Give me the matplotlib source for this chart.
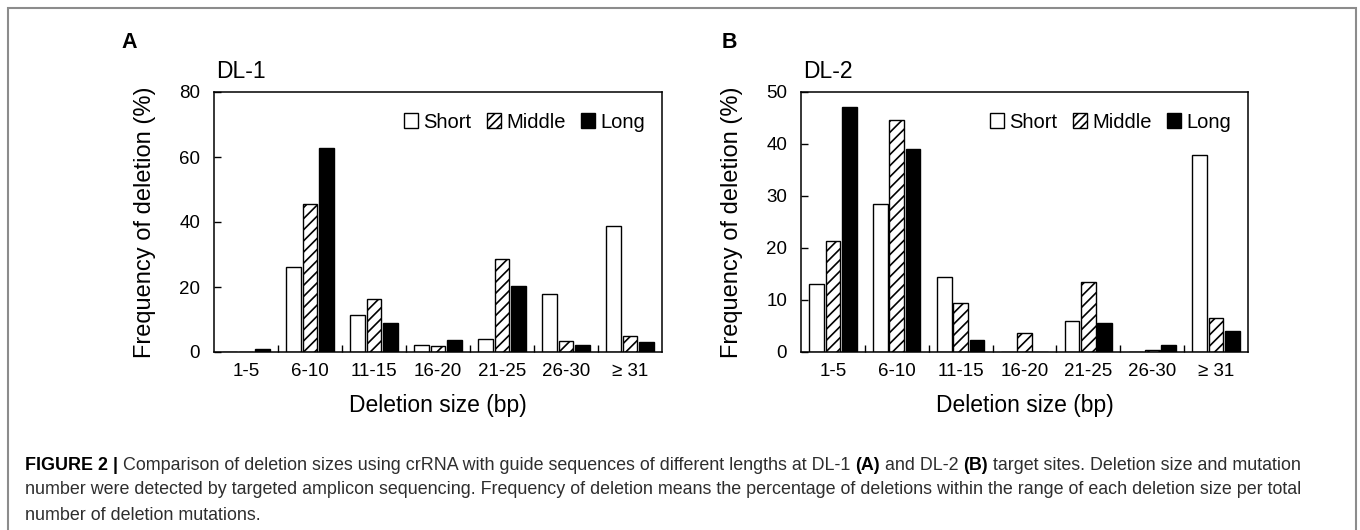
import matplotlib
matplotlib.use('Agg')
import matplotlib.pyplot as plt
import numpy as np
from matplotlib.patches import Rectangle, Patch
from matplotlib.ticker import NullFormatter

plt.rcParams['font.family'] = ['Liberation Sans', 'DejaVu Sans']
plt.rcParams['hatch.linewidth'] = 1.2

# ---------------- data ----------------
categories = ['1-5', '6-10', '11-15', '16-20', '21-25', '26-30', '≥ 31']
series_names = ['Short', 'Middle', 'Long']

dl1_short = [0.0, 26.2, 11.4, 2.2, 3.9, 17.9, 38.8]
dl1_middle = [0.0, 45.6, 16.4, 1.9, 28.7, 3.3, 5.0]
dl1_long = [0.9, 62.8, 8.8, 3.6, 20.4, 2.3, 3.0]

dl2_short = [13.0, 28.4, 14.5, 0.0, 5.9, 0.0, 37.9]
dl2_middle = [21.3, 44.6, 9.5, 3.7, 13.5, 0.3, 6.5]
dl2_long = [47.1, 39.1, 2.4, 0.0, 5.5, 1.4, 4.1]

dl1_yticks = [0, 20, 40, 60, 80]
dl2_yticks = [0, 10, 20, 30, 40, 50]

ylabel = 'Frequency of deletion (%)'
xlabel = 'Deletion size (bp)'

caption_line1 = [('FIGURE 2 |', True),
                 (' Comparison of deletion sizes using crRNA with guide sequences of different lengths at DL-1 ', False),
                 ('(A)', True), (' and DL-2 ', False), ('(B)', True),
                 (' target sites. Deletion size and mutation', False)]
caption_line2 = [('number were detected by targeted amplicon sequencing. Frequency of deletion means the percentage '
                  'of deletions within the range of each deletion size per total', False)]
caption_line3 = [('number of deletion mutations.', False)]

# ---------------- figure ----------------
W, H = 1360, 530
fig = plt.figure(figsize=(W / 100, H / 100), dpi=100)
fig.patch.set_facecolor('white')


def rect(l, t, r, b):
    return [l / W, 1 - b / H, (r - l) / W, (b - t) / H]


def fx(px):
    return px / W


def fy(py):
    return 1 - py / H


# figure border
fig.add_artist(Rectangle((fx(7.5), fy(545)), (1356 - 7.5) / W, (545 - 8) / H,
                         transform=fig.transFigure, fill=False,
                         edgecolor='#8c8c8c', lw=1.5))

axA = fig.add_axes(rect(214, 92, 662, 352))
axB = fig.add_axes(rect(801, 92, 1248, 352))

hatch = '///'


def draw(ax, short, middle, long_, yticks, title):
    x = np.arange(len(categories))
    w = 0.23
    off = 0.255
    ax.bar(x - off, short, w, color='white', edgecolor='black', lw=1.0, zorder=2)
    ax.bar(x, middle, w, color='white', edgecolor='black', hatch=hatch, lw=1.0, zorder=2)
    ax.bar(x + off, long_, w, color='black', edgecolor='black', lw=1.0, zorder=2)
    ax.set_xlim(-0.5, len(categories) - 0.5)
    ax.set_ylim(yticks[0], yticks[-1])
    ax.set_yticks(yticks)
    ax.set_xticks(np.arange(0.5, len(categories) - 1, 1.0))
    ax.xaxis.set_major_formatter(NullFormatter())
    ax.set_xticks(x, minor=True)
    ax.set_xticklabels(categories, minor=True)
    ax.tick_params(axis='x', which='major', direction='in', length=5, width=1)
    ax.tick_params(axis='x', which='minor', length=0, pad=8, labelsize=13.5)
    ax.tick_params(axis='y', direction='in', length=5, width=1, pad=10, labelsize=13.5)
    for s in ax.spines.values():
        s.set_linewidth(1.1)
    ax.set_ylabel(ylabel, fontsize=17)
    ax.yaxis.set_label_coords(-0.154, 0.5)
    ax.yaxis.label.set_va('center')
    ax.set_xlabel(xlabel, fontsize=16.5)
    ax.xaxis.set_label_coords(0.5, -0.205)
    ax.xaxis.label.set_va('center')
    ax.text(0.005, 1 + (92 - 71) / 260, title, transform=ax.transAxes,
            fontsize=16.5, ha='left', va='center')
    handles = [Patch(facecolor='white', edgecolor='black', lw=1.0),
               Patch(facecolor='white', edgecolor='black', hatch='////', lw=1.0),
               Patch(facecolor='black', edgecolor='black', lw=1.0)]
    ax.legend(handles, series_names, loc='center right',
              bbox_to_anchor=(0.962, (352 - 122) / 260), ncol=3, frameon=False,
              fontsize=14.5, handlelength=0.72, handleheight=0.72,
              handletextpad=0.25, columnspacing=0.75, borderpad=0,
              borderaxespad=0)


draw(axA, dl1_short, dl1_middle, dl1_long, dl1_yticks, 'DL-1')
draw(axB, dl2_short, dl2_middle, dl2_long, dl2_yticks, 'DL-2')

fig.text(fx(129.5), fy(43), 'A', fontsize=15.5, fontweight='bold', ha='center', va='center')
fig.text(fx(729.5), fy(43), 'B', fontsize=15.5, fontweight='bold', ha='center', va='center')

# ---------------- caption ----------------
renderer = fig.canvas.get_renderer()
cap_color = '#2e2e2e'


def rich_line(x_px, y_px, segments, size):
    x = x_px
    for txt, bold in segments:
        t = fig.text(x / W, fy(y_px), txt, fontsize=size,
                     fontweight='bold' if bold else 'normal',
                     color='black' if bold else cap_color,
                     ha='left', va='center')
        bb = t.get_window_extent(renderer)
        x = bb.x1


# fit caption size so that line 2 spans its width in the reference
probe = fig.text(0, 0, caption_line2[0][0], fontsize=11)
pw = probe.get_window_extent(renderer).width
probe.remove()
cap_size = 11 * (1302 - 25) / pw

rich_line(25, 465, caption_line1, cap_size)
rich_line(25, 490, caption_line2, cap_size)
rich_line(25, 515, caption_line3, cap_size)

fig.savefig('out.png', dpi=100, facecolor='white')
